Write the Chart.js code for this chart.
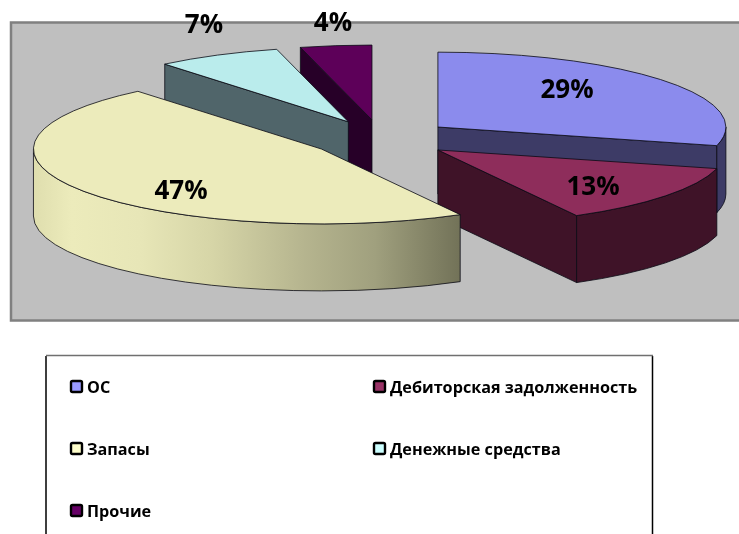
<!DOCTYPE html>
<html>
<head>
<meta charset="utf-8">
<style>
html, body { margin: 0; padding: 0; background: #fff; overflow: hidden; }
canvas { display: block; }
</style>
<script src="https://cdn.jsdelivr.net/npm/chart.js@4/dist/chart.umd.min.js"></script>
</head>
<body>
<canvas id="myChart" width="739" height="534"></canvas>
<script>
const categories = ['ОС', 'Дебиторская задолженность', 'Запасы', 'Денежные средства', 'Прочие'];
const shares = [29, 13, 47, 7, 4];

const topColors = ['#8b8bed', '#8e2d5b', '#ecebbb', '#baecec', '#5d0059'];
const wallColors = ['#3d3b66', '#3f1328', '#ecebbb', '#50656a', '#270028'];
const legendColors = ['#9999ff', '#993366', '#ffffcc', '#ccffff', '#660066'];
// back to front, the slices overlap each other
const paintOrder = [4, 3, 0, 1, 2];
// the percent labels were placed by hand, not along the mid angle
const labelSpots = [[567, 91], [593, 188], [181, 192], [204, 26], [333, 24]];
const legendSpots = [[70, 387], [373, 387], [70, 449], [373, 449], [70, 511]];

const PIE_Y = 138.5;
const SQUASH = 0.26;
const DEPTH = 67;
const EXPLODE = 72;
const FONT = '"Open Sans", sans-serif';

function outline(ctx) {
    ctx.lineWidth = 1;
    ctx.strokeStyle = 'rgba(10, 10, 20, 0.8)';
    ctx.stroke();
}

// one slice: walls first, then the library's arc squashed on top
function drawSlice(ctx, arc, index) {
    const mid = (arc.startAngle + arc.endAngle) / 2;
    const r = arc.outerRadius;
    const ax = arc.x + Math.cos(mid) * EXPLODE;
    const ay = PIE_Y + Math.sin(mid) * EXPLODE * SQUASH;
    const rimX = (a) => ax + Math.cos(a) * r;
    const rimY = (a) => ay + Math.sin(a) * r * SQUASH;

    // flat side walls, only the ones turned towards the viewer
    const sides = [];
    if (Math.cos(arc.startAngle) < 0) sides.push(arc.startAngle);
    if (Math.cos(arc.endAngle) > 0) sides.push(arc.endAngle);
    sides.forEach(function (a) {
        ctx.beginPath();
        ctx.moveTo(ax, ay);
        ctx.lineTo(rimX(a), rimY(a));
        ctx.lineTo(rimX(a), rimY(a) + DEPTH);
        ctx.lineTo(ax, ay + DEPTH);
        ctx.closePath();
        ctx.fillStyle = wallColors[index];
        ctx.fill();
        outline(ctx);
    });

    // curved wall, only the front half of the rim shows
    const from = Math.max(arc.startAngle, 0);
    const to = Math.min(arc.endAngle, Math.PI);
    if (to > from) {
        ctx.beginPath();
        ctx.ellipse(ax, ay, r, r * SQUASH, 0, from, to);
        ctx.ellipse(ax, ay + DEPTH, r, r * SQUASH, 0, to, from, true);
        ctx.closePath();
        if (index == 2) {
            const grad = ctx.createLinearGradient(rimX(to), 0, rimX(from), 0);
            grad.addColorStop(0, '#dfdeae');
            grad.addColorStop(0.09, '#ecebbb');
            grad.addColorStop(0.25, '#e7e6b7');
            grad.addColorStop(0.42, '#d6d5a7');
            grad.addColorStop(0.63, '#b6b58f');
            grad.addColorStop(0.8, '#a0a07e');
            grad.addColorStop(1, '#727258');
            ctx.fillStyle = grad;
        } else {
            ctx.fillStyle = wallColors[index];
        }
        ctx.fill();
        outline(ctx);
    }

    // top face
    ctx.save();
    ctx.translate(ax, ay);
    ctx.scale(1, SQUASH);
    ctx.translate(-arc.x, -arc.y);
    arc.draw(ctx);
    ctx.restore();

    // edge of the top face, stroked outside the squash so the line stays even
    ctx.beginPath();
    ctx.moveTo(ax, ay);
    ctx.ellipse(ax, ay, r, r * SQUASH, 0, arc.startAngle, arc.endAngle);
    ctx.closePath();
    outline(ctx);
}

const plotFrame = {
    id: 'plotFrame',
    beforeDatasetsDraw(chart) {
        const ctx = chart.ctx;
        ctx.save();
        ctx.fillStyle = '#bfbfbf';
        ctx.strokeStyle = '#808080';
        ctx.lineWidth = 2.5;
        ctx.fillRect(11, 22.5, 740, 298);
        ctx.strokeRect(11, 22.5, 740, 298);
        ctx.restore();
    }
};

const tiltedPie = {
    id: 'tiltedPie',
    beforeDatasetDraw(chart, args) {
        const ctx = chart.ctx;
        ctx.save();
        paintOrder.forEach(function (i) {
            drawSlice(ctx, args.meta.data[i], i);
        });
        ctx.restore();
        return false;
    },
    afterDatasetsDraw(chart) {
        const ctx = chart.ctx;
        ctx.save();
        ctx.fillStyle = '#000';
        ctx.font = 'bold 26px ' + FONT;
        ctx.textAlign = 'center';
        ctx.textBaseline = 'middle';
        shares.forEach(function (value, i) {
            ctx.fillText(value + '%', labelSpots[i][0], labelSpots[i][1]);
        });
        ctx.restore();
    }
};

const boxLegend = {
    id: 'boxLegend',
    afterDraw(chart) {
        const ctx = chart.ctx;
        ctx.save();
        ctx.lineWidth = 1.5;
        ctx.strokeStyle = '#000';
        ctx.beginPath();
        ctx.moveTo(46, 356);
        ctx.lineTo(46, 534);
        ctx.moveTo(652.5, 356);
        ctx.lineTo(652.5, 534);
        ctx.stroke();
        ctx.strokeStyle = '#707070';
        ctx.beginPath();
        ctx.moveTo(46, 355.5);
        ctx.lineTo(653, 355.5);
        ctx.stroke();

        ctx.font = 'bold 16.2px ' + FONT;
        ctx.textBaseline = 'middle';
        ctx.textAlign = 'left';
        categories.forEach(function (name, i) {
            const x = legendSpots[i][0];
            const y = legendSpots[i][1];
            ctx.fillStyle = legendColors[i];
            ctx.strokeStyle = '#000';
            ctx.lineWidth = 2.4;
            ctx.beginPath();
            ctx.roundRect(x + 1, y - 6, 11, 11, 1.5);
            ctx.fill();
            ctx.stroke();
            ctx.fillStyle = '#000';
            ctx.fillText(name, x + 17, y + 1);
        });
        ctx.restore();
    }
};

const chart = new Chart(document.getElementById('myChart'), {
    type: 'pie',
    data: {
        labels: categories,
        datasets: [{
            data: shares,
            backgroundColor: topColors,
            borderWidth: 0,
            radius: 288
        }]
    },
    options: {
        responsive: false,
        animation: false,
        // puts the pie centre at x = 381
        layout: { padding: { left: 23 } },
        plugins: {
            legend: { display: false },
            tooltip: { enabled: false }
        }
    },
    plugins: [plotFrame, tiltedPie, boxLegend]
});
</script>
</body>
</html>
